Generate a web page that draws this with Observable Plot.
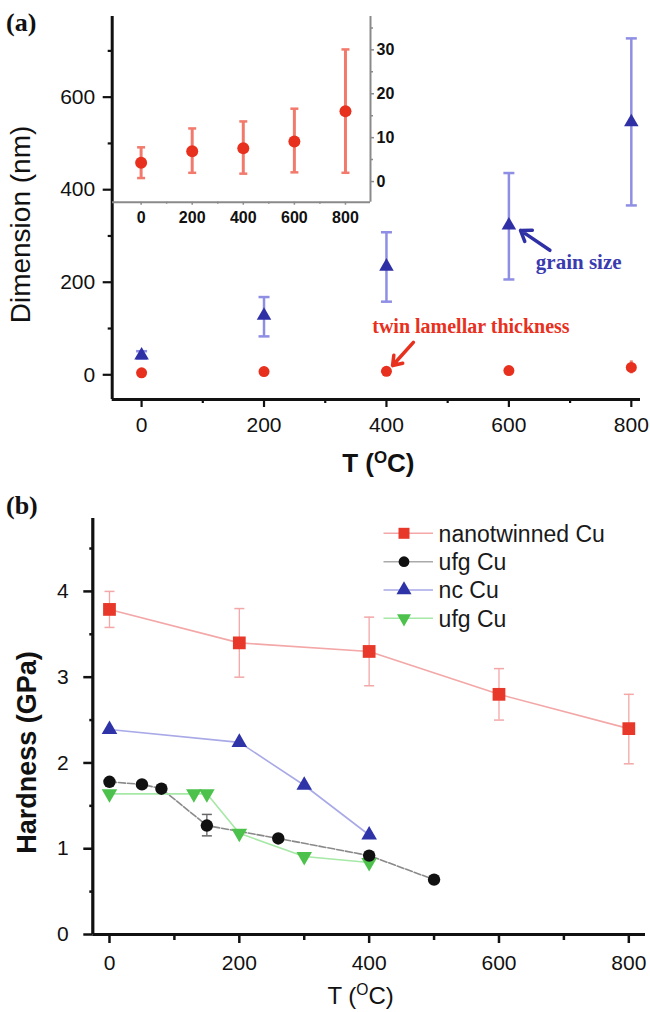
<!DOCTYPE html>
<html><head><meta charset="utf-8">
<script src="https://cdn.jsdelivr.net/npm/d3@7"></script>
<script src="https://cdn.jsdelivr.net/npm/@observablehq/plot@0.6"></script>
<style>
body{margin:0;background:#fff;}
#root{position:relative;width:650px;height:1012px;overflow:hidden;font-family:"Liberation Sans",Arial,sans-serif;}
.plab{position:absolute;font:bold 26px "Liberation Serif","Times New Roman",serif;line-height:26px;color:#111;}
</style></head><body><div id="root"></div>
<script>
// ---------- Panel (a) data ----------
const tempA = [0, 200, 400, 600, 800];
const grainSize = [42, 128, 234, 323, 546];
const grainLo = [35, 83, 158, 206, 366];
const grainHi = [51, 168, 308, 436, 727];
const twinThk = [4.3, 6.9, 7.6, 9.1, 16.0];
const twinLo = [0.8, 2.0, 1.8, 2.1, 2.0];
const twinHi = [7.8, 12.1, 13.7, 16.6, 30.1];
const ticksA_x = [0, 200, 400, 600, 800];
const ticksA_y = [0, 200, 400, 600];
const ticksI_y = [0, 10, 20, 30];
// annotation text / arrows (data units of panel a)
const annLabels = ["grain size", "twin lamellar thickness"];
const annTextX = [714, 538];
const annTextY = [243, 104];
const annArrowX1 = [667, 444];
const annArrowY1 = [269, 70];
const annArrowX2 = [619, 410];
const annArrowY2 = [312, 20];

// ---------- Panel (b) data ----------
const ntT = [0, 200, 400, 600, 800];
const ntH = [3.79, 3.40, 3.30, 2.80, 2.40];
const ntLo = [3.58, 3.00, 2.90, 2.50, 1.99];
const ntHi = [4.00, 3.80, 3.70, 3.10, 2.80];
const ufgT = [0, 50, 80, 150, 260, 400, 500];
const ufgH = [1.78, 1.75, 1.70, 1.27, 1.12, 0.92, 0.64];
const ufgErrT = [150];
const ufgErrLo = [1.15];
const ufgErrHi = [1.40];
const ncT = [0, 200, 300, 400];
const ncH = [2.39, 2.24, 1.74, 1.16];
const ufg2T = [0, 130, 150, 200, 300, 400];
const ufg2H = [1.64, 1.64, 1.64, 1.18, 0.91, 0.84];
const seriesNames = ["nanotwinned Cu", "ufg Cu", "nc Cu", "ufg Cu"];
const ticksB_x = [0, 200, 400, 600, 800];
const ticksB_y = [0, 1, 2, 3, 4];

// ---------- styling ----------
const FONT = '"Liberation Sans", Arial, Helvetica, sans-serif';
const SERIF = '"Liberation Serif", "Times New Roman", serif';
const RED = "#e8301e", RED_ERR = "#f27a6c";
const BLUE = "#3030a6", BLUE_ERR = "#8e8ee4";
const NT_RED = "#e8382a", NT_LINE = "#f3a7a7";
const BLACK = "#111", BLACK_LINE = "#8a8a8a";
const NC_BLUE = "#2f33a8", NC_LINE = "#a9a9e8";
const GREEN = "#4cc24c", GREEN_LINE = "#a6e8a6";
const INK = "#111";

const capSym = {draw(ctx, size){ const r = Math.sqrt(size/Math.PI); ctx.moveTo(-r,0); ctx.lineTo(r,0);} };
const minor = (arr) => arr.slice(0,-1).map((d,i)=> (d+arr[i+1])/2);
const blank = () => "";
const plain = (d) => String(d);

const root = document.getElementById("root");
function place(el, left, top){ el.style.position="absolute"; el.style.left=left+"px"; el.style.top=top+"px"; root.appendChild(el); return el; }

// ---------- Panel (a) main ----------
const rowsA = tempA.map((t,i)=>({t, g:grainSize[i], gLo:grainLo[i], gHi:grainHi[i], w:twinThk[i], wLo:twinLo[i], wHi:twinHi[i]}));
const ann = annLabels.map((label,i)=>({label, x:annTextX[i], y:annTextY[i], x1:annArrowX1[i], y1:annArrowY1[i], x2:annArrowX2[i], y2:annArrowY2[i]}));
const xDomA = [-48, 815], yDomA = [-53.4, 774.3];
const minorAx = minor([0,200,400,600,800]);
const minorAy = [100,300,500,700];

const plotA = Plot.plot({
  width: 650, height: 480, marginLeft: 111.7, marginRight: 10, marginTop: 16, marginBottom: 81,
  x: {domain: xDomA}, y: {domain: yDomA},
  style: {fontFamily: FONT, fontSize: "21px", color: INK, background: "transparent", overflow: "visible"},
  marks: [
    Plot.axisY({ticks: ticksA_y, tickSize: 9, tickPadding: 8, tickFormat: plain, strokeWidth: 2.2, label: null, fontSize: 21}),
    Plot.axisY({ticks: minorAy, tickSize: 4, tickFormat: blank, strokeWidth: 2.2, label: null}),
    Plot.axisX({ticks: ticksA_x, tickSize: 8, tickPadding: 10, tickFormat: plain, strokeWidth: 2.2, label: null, fontSize: 21}),
    Plot.axisX({ticks: minorAx, tickSize: 4, tickFormat: blank, strokeWidth: 2.2, label: null}),
    Plot.ruleX([xDomA[0]], {stroke: INK, strokeWidth: 3}),
    Plot.ruleY([yDomA[0]], {stroke: INK, strokeWidth: 3}),
    // grain size error bars
    Plot.ruleX(rowsA, {x: "t", y1: "gLo", y2: "gHi", stroke: BLUE_ERR, strokeWidth: 2.5}),
    Plot.dot(rowsA, {x: "t", y: "gLo", symbol: capSym, r: 5.5, fill: "none", stroke: BLUE_ERR, strokeWidth: 2.5}),
    Plot.dot(rowsA, {x: "t", y: "gHi", symbol: capSym, r: 5.5, fill: "none", stroke: BLUE_ERR, strokeWidth: 2.5}),
    Plot.dot(rowsA, {x: "t", y: "g", symbol: "triangle", r: 5.4, fill: BLUE}),
    // twin thickness
    Plot.ruleX(rowsA, {x: "t", y1: "wLo", y2: "wHi", stroke: RED_ERR, strokeWidth: 3}),
    Plot.dot(rowsA, {x: "t", y: "w", r: 5.5, fill: RED}),
    // annotations
    Plot.arrow(ann, {x1: "x1", y1: "y1", x2: "x2", y2: "y2", stroke: (d,i)=> i===0 ? BLUE : RED, strokeWidth: 3.5, headLength: 11, headAngle: 70}),
    Plot.text(ann, {x: "x", y: "y", text: "label", fill: (d,i)=> i===0 ? "#3b3bb0" : RED, fontFamily: SERIF, fontWeight: "bold", fontSize: (d,i)=> i===0 ? 21 : 20, textAnchor: "middle", lineAnchor: "middle"}),
    // axis titles
    Plot.text(["Dimension (nm)"], {frameAnchor: "left", dx: -90.7, dy: 16.5, rotate: -90, fontSize: 28, fill: INK, textAnchor: "middle", lineAnchor: "middle"}),
    Plot.text(["T (°C)"], {frameAnchor: "bottom", dx: 2, dy: 64, fontSize: 26, fontWeight: "bold", fill: INK, textAnchor: "middle", lineAnchor: "middle"})
  ]
});
place(plotA, 0, 0);

// ---------- Panel (a) inset ----------
const xDomI = [-112, 898], yDomI = [-4.7, 37.6];
const plotI = Plot.plot({
  width: 400, height: 232, marginLeft: 112, marginRight: 30, marginTop: 16, marginBottom: 30.3,
  x: {domain: xDomI}, y: {domain: yDomI},
  style: {fontFamily: FONT, fontSize: "16px", color: INK, background: "transparent", overflow: "visible"},
  marks: [
    Plot.ruleX([xDomI[1]], {stroke: "#8a8a8a", strokeWidth: 2}),
    Plot.ruleY([yDomI[0]], {stroke: "#8a8a8a", strokeWidth: 2}),
    Plot.axisY({anchor: "right", ticks: ticksI_y, tickSize: 3, tickPadding: 3, tickFormat: plain, stroke: "#8a8a8a", strokeWidth: 1.5, label: null, fontWeight: "bold", fontSize: 16, fill: INK}),
    Plot.axisY({anchor: "right", ticks: [5,15,25,35], tickSize: 2, tickFormat: blank, stroke: "#8a8a8a", strokeWidth: 1.5, label: null}),
    Plot.axisX({ticks: ticksA_x, tickSize: 3, tickPadding: 6, tickFormat: plain, stroke: "#8a8a8a", strokeWidth: 1.5, label: null, fontWeight: "bold", fontSize: 16, fill: INK}),
    Plot.axisX({ticks: minorAx, tickSize: 2, tickFormat: blank, stroke: "#8a8a8a", strokeWidth: 1.5, label: null}),
    Plot.ruleX(rowsA, {x: "t", y1: "wLo", y2: "wHi", stroke: RED_ERR, strokeWidth: 3}),
    Plot.dot(rowsA, {x: "t", y: "wLo", symbol: capSym, r: 4, fill: "none", stroke: RED_ERR, strokeWidth: 2.5}),
    Plot.dot(rowsA, {x: "t", y: "wHi", symbol: capSym, r: 4, fill: "none", stroke: RED_ERR, strokeWidth: 2.5}),
    Plot.dot(rowsA, {x: "t", y: "w", r: 6, fill: RED})
  ]
});
place(plotI, 0, 0);

// ---------- Panel (b) ----------
const rowsNT = ntT.map((t,i)=>({t, h:ntH[i], lo:ntLo[i], hi:ntHi[i]}));
const rowsUFG = ufgT.map((t,i)=>({t, h:ufgH[i]}));
const rowsUFGerr = ufgErrT.map((t,i)=>({t, lo:ufgErrLo[i], hi:ufgErrHi[i]}));
const rowsNC = ncT.map((t,i)=>({t, h:ncH[i]}));
const rowsUFG2 = ufg2T.map((t,i)=>({t, h:ufg2H[i]}));
const xDomB = [-25.7, 825.7], yDomB = [0, 4.85];

const plotB = Plot.plot({
  width: 650, height: 512, marginLeft: 92.3, marginRight: 5, marginTop: 18, marginBottom: 78,
  x: {domain: xDomB}, y: {domain: yDomB},
  style: {fontFamily: FONT, fontSize: "21px", color: INK, background: "transparent", overflow: "visible"},
  marks: [
    Plot.axisY({ticks: ticksB_y, tickSize: 9, tickPadding: 15, tickFormat: plain, strokeWidth: 2.5, label: null, fontSize: 21}),
    Plot.axisY({ticks: [0.5,1.5,2.5,3.5,4.5], tickSize: 3, tickFormat: blank, strokeWidth: 2.5, label: null}),
    Plot.axisX({ticks: ticksB_x, tickSize: 9, tickPadding: 12, tickFormat: plain, strokeWidth: 2.5, label: null, fontSize: 21}),
    Plot.axisX({ticks: minor(ticksB_x), tickSize: 6, tickFormat: blank, strokeWidth: 2.5, label: null}),
    Plot.ruleX([xDomB[0]], {stroke: INK, strokeWidth: 3.2}),
    Plot.ruleY([yDomB[0]], {stroke: INK, strokeWidth: 3.2}),
    // lines
    Plot.line(rowsNT, {x: "t", y: "h", stroke: NT_LINE, strokeWidth: 1.6}),
    Plot.line(rowsUFG, {x: "t", y: "h", stroke: BLACK_LINE, strokeWidth: 1.6, strokeDasharray: "7,2"}),
    Plot.line(rowsNC, {x: "t", y: "h", stroke: NC_LINE, strokeWidth: 1.6}),
    Plot.line(rowsUFG2, {x: "t", y: "h", stroke: GREEN_LINE, strokeWidth: 1.6}),
    // error bars
    Plot.ruleX(rowsNT, {x: "t", y1: "lo", y2: "hi", stroke: NT_LINE, strokeWidth: 1.3}),
    Plot.dot(rowsNT, {x: "t", y: "lo", symbol: capSym, r: 5, fill: "none", stroke: NT_LINE, strokeWidth: 1.5}),
    Plot.dot(rowsNT, {x: "t", y: "hi", symbol: capSym, r: 5, fill: "none", stroke: NT_LINE, strokeWidth: 1.5}),
    Plot.ruleX(rowsUFGerr, {x: "t", y1: "lo", y2: "hi", stroke: "#666", strokeWidth: 1.3}),
    Plot.dot(rowsUFGerr, {x: "t", y: "lo", symbol: capSym, r: 5, fill: "none", stroke: "#666", strokeWidth: 1.5}),
    Plot.dot(rowsUFGerr, {x: "t", y: "hi", symbol: capSym, r: 5, fill: "none", stroke: "#666", strokeWidth: 1.5}),
    // markers
    Plot.dot(rowsUFG2, {x: "t", y: "h", symbol: "triangle", rotate: 180, r: 5.8, fill: GREEN}),
    Plot.dot(rowsUFG, {x: "t", y: "h", r: 6.2, fill: BLACK}),
    Plot.dot(rowsNC, {x: "t", y: "h", symbol: "triangle", r: 5.8, fill: NC_BLUE}),
    Plot.dot(rowsNT, {x: "t", y: "h", symbol: "square", r: 7.2, fill: NT_RED}),
    // axis titles
    Plot.text(["Hardness (GPa)"], {frameAnchor: "left", dx: -65.3, dy: 26, rotate: -90, fontSize: 27, fontWeight: "bold", fill: INK, textAnchor: "middle", lineAnchor: "middle"}),
    Plot.text(["T (°C)"], {frameAnchor: "bottom", dx: -8.6, dy: 62, fontSize: 24, fill: INK, textAnchor: "middle", lineAnchor: "middle"})
  ]
});
place(plotB, 0, 500);

// ---------- Legend for (b) ----------
const legendItems = [
  {name: seriesNames[0], sym: d3.symbolSquare, r: 6.2, fill: NT_RED, line: NT_LINE, rot: 0},
  {name: seriesNames[1], sym: d3.symbolCircle, r: 5.4, fill: BLACK, line: "#aaa", rot: 0},
  {name: seriesNames[2], sym: d3.symbolTriangle, r: 5.6, fill: NC_BLUE, line: NC_LINE, rot: 0},
  {name: seriesNames[3], sym: d3.symbolTriangle, r: 5.2, fill: GREEN, line: GREEN_LINE, rot: 180}
];
const leg = d3.create("svg").attr("width", 260).attr("height", 120).style("overflow", "visible");
const rowY = [18.3, 46.7, 75, 103.3];
legendItems.forEach((it, i) => {
  const g = leg.append("g").attr("transform", `translate(0,${rowY[i]})`);
  g.append("line").attr("x1", 8.5).attr("x2", 58).attr("y1", 0).attr("y2", 0).attr("stroke", it.line).attr("stroke-width", 1.6);
  g.append("path").attr("d", d3.symbol(it.sym, Math.PI*it.r*it.r)()).attr("transform", `translate(29,0) rotate(${it.rot})`).attr("fill", it.fill);
  g.append("text").attr("x", 63.6).attr("y", 0).attr("dy", "0.36em").attr("font-family", FONT).attr("font-size", 23).attr("fill", "#1a1a1a").text(it.name);
});
place(leg.node(), 375, 515);

// panel labels
const la = document.createElement("div"); la.className = "plab"; la.textContent = "(a)"; place(la, 6, 10);
const lb = document.createElement("div"); lb.className = "plab"; lb.textContent = "(b)"; place(lb, 6, 493);

// superscript "O" in T (°C)
d3.select(root).selectAll("text").each(function(){
  if (this.textContent === "T (°C)") {
    const t = d3.select(this);
    t.text("");
    t.append("tspan").text("T (");
    t.append("tspan").attr("font-size", "65%").attr("dy", "-9").text("O");
    t.append("tspan").attr("dy", "9").text("C)");
  }
});
</script></body></html>
